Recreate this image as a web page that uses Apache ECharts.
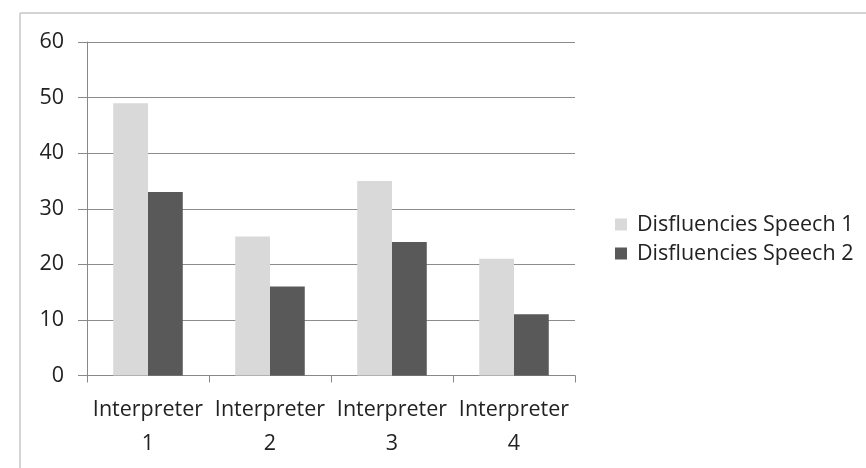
<!DOCTYPE html>
<html>
<head>
<meta charset="utf-8">
<script src="https://cdn.jsdelivr.net/npm/echarts@6/dist/echarts.min.js"></script>
<style>
html,body{margin:0;padding:0;background:#fff;}
#c{width:866px;height:468px;}
</style>
</head>
<body>
<div id="c"></div>
<script>
const categories = ["Interpreter\n1", "Interpreter\n2", "Interpreter\n3", "Interpreter\n4"];
const seriesNames = ["Disfluencies Speech 1", "Disfluencies Speech 2"];
const speech1 = [49, 25, 35, 21];
const speech2 = [33, 16, 24, 11];
const yTicks = [0, 10, 20, 30, 40, 50, 60];

const chart = echarts.init(document.getElementById('c'), null, {renderer: 'canvas'});
const font = "Open Sans";
chart.setOption({
  animation: false,
  backgroundColor: '#ffffff',
  textStyle: {fontFamily: font},
  graphic: [
    {type: 'line', shape: {x1: 20, y1: 13, x2: 866, y2: 13}, style: {stroke: '#d4d4d4', lineWidth: 2}},
    {type: 'line', shape: {x1: 20, y1: 13, x2: 20, y2: 468}, style: {stroke: '#d4d4d4', lineWidth: 2}}
  ],
  grid: {left: 87, right: 291, top: 42, bottom: 92.5, containLabel: false},
  legend: {
    orient: 'vertical',
    left: 610,
    top: 208,
    itemWidth: 12,
    itemHeight: 12,
    itemGap: 6,
    icon: 'rect',
    textStyle: {fontFamily: font, fontSize: 21.5, color: '#222222', lineHeight: 23, padding: [0, 0, 0, 5]},
    data: seriesNames
  },
  xAxis: {
    type: 'category',
    data: categories,
    axisLine: {lineStyle: {color: '#888888', width: 1}},
    axisTick: {show: true, length: 7, lineStyle: {color: '#888888'}},
    axisLabel: {fontFamily: font, fontSize: 21.5, color: '#222222', lineHeight: 34, margin: 17, interval: 0}
  },
  yAxis: {
    type: 'value',
    min: yTicks[0],
    max: yTicks[yTicks.length - 1],
    interval: 10,
    axisLine: {show: true, lineStyle: {color: '#888888', width: 1}},
    axisTick: {show: true, inside: false, length: 9, lineStyle: {color: '#888888'}},
    splitLine: {lineStyle: {color: '#8c8c8c', width: 1}},
    axisLabel: {fontFamily: font, fontSize: 21.5, color: '#222222', margin: 23}
  },
  series: [
    {name: seriesNames[0], type: 'bar', data: speech1, itemStyle: {color: '#d9d9d9'}, barGap: '0%', barCategoryGap: '43%'},
    {name: seriesNames[1], type: 'bar', data: speech2, itemStyle: {color: '#595959'}, barGap: '0%', barCategoryGap: '43%'}
  ]
});
</script>
</body>
</html>
